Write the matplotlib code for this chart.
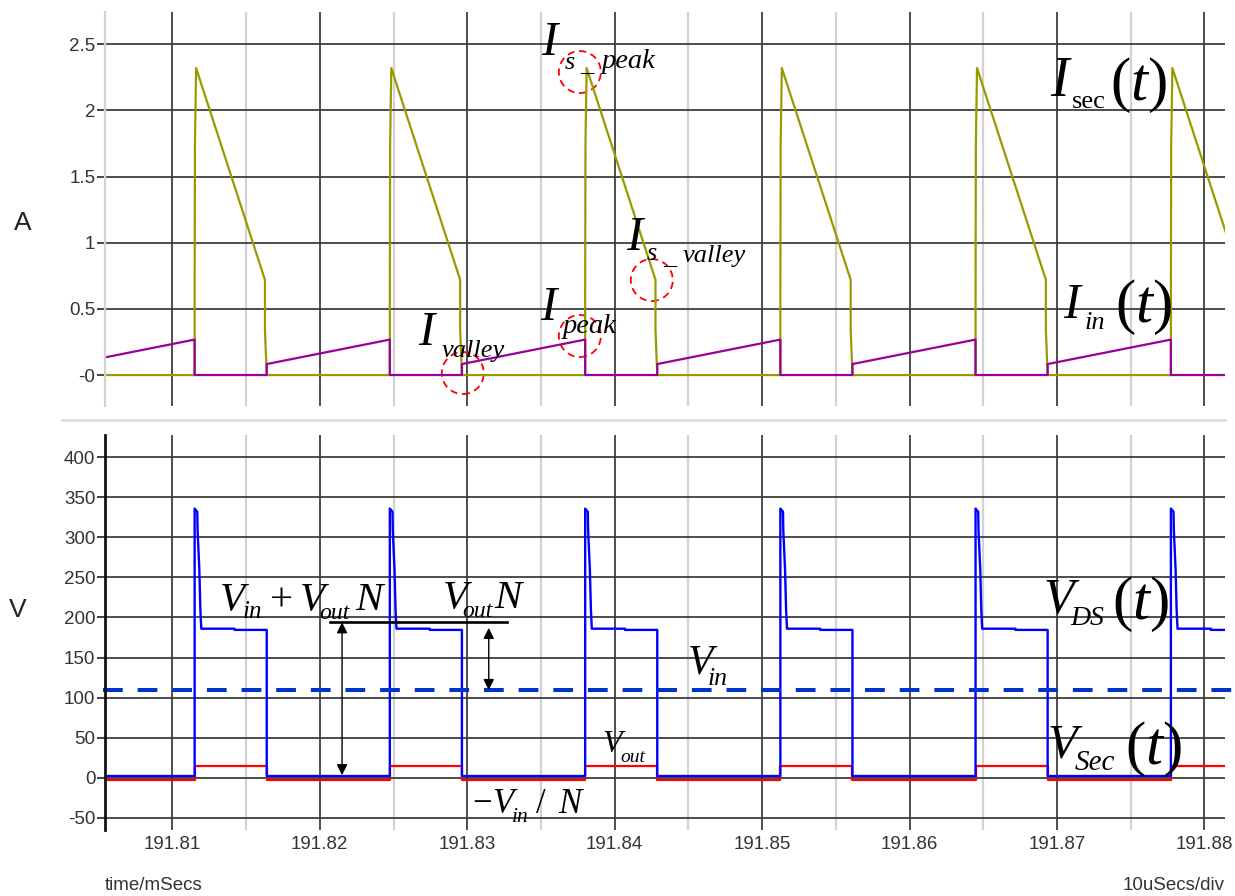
import matplotlib.pyplot as plt
import matplotlib.transforms as mtransforms
from matplotlib.patches import Circle
from matplotlib.lines import Line2D

plt.rcParams['font.family'] = ['Liberation Sans', 'DejaVu Sans']

# switching instants (ms)
t_off = [191.79827, 191.81151, 191.82475, 191.83800, 191.85124, 191.86448, 191.87773]  # VDS rises
t_on = [191.80316, 191.81640, 191.82964, 191.84289, 191.85613, 191.86937, 191.88262]   # VDS falls

# secondary current levels (A)
isec_rise_dt = [0, 0, 0.00002, 0.0001]
isec_rise_v = [0, 0.6, 1.74, 2.32]
is_valley = 0.72
is_tail = 0.34
# input current levels (A)
iin_valley = 0.083
iin_peak = 0.268

# drain-source voltage (V)
vds_low = 2
vds_ring_dt = [0, 0, 0.00018, 0.0002, 0.00032, 0.00039, 0.00045]
vds_ring_v = [2, 336, 332, 309, 259, 209, 186]
vds_step_dt = 0.0027
vds_plateau = [186, 184.5]
# secondary voltage (V)
vsec_high = 15
vsec_low = -3
v_in = 110

# piecewise waveforms
t_is, isec = [], []
for a, b in zip(t_off, t_on):
    t_is += [a + d for d in isec_rise_dt] + [b - 0.00012, b - 0.00012, b]
    isec += isec_rise_v + [is_valley, is_tail, 0]

t_ii, iin = [t_off[0]], [0]
for b, a_next in zip(t_on, t_off[1:]):
    t_ii += [b, b, a_next, a_next]
    iin += [0, iin_valley, iin_peak, 0]
t_ii.append(t_on[-1])
iin.append(0)

t_vd, vds = [], []
for a, b in zip(t_off, t_on):
    t_vd += [a + d for d in vds_ring_dt] + [a + vds_step_dt, a + vds_step_dt, b, b]
    vds += vds_ring_v + [vds_plateau[0], vds_plateau[1], vds_plateau[1], vds_low]

t_vs, vsec = [], []
for a, b in zip(t_off, t_on):
    t_vs += [a, a, b, b]
    vsec += [vsec_low, vsec_high, vsec_high, vsec_low]

W, H = 1235, 896
fig = plt.figure(figsize=(W / 100, H / 100), dpi=100)
ax1 = fig.add_axes([105 / W, 1 - 406 / H, 1120 / W, 394 / H])
ax2 = fig.add_axes([105 / W, 1 - 830 / H, 1120 / W, 395 / H])

xmin, xmax = 191.80543, 191.88140
major_x = [191.81, 191.82, 191.83, 191.84, 191.85, 191.86, 191.87, 191.88]
minor_x = [191.815, 191.825, 191.835, 191.845, 191.855, 191.865, 191.875]

for ax in (ax1, ax2):
    ax.set_xlim(xmin, xmax)
    ax.set_xticks(major_x)
    ax.set_xticks(minor_x, minor=True)
    ax.grid(True, which='major', color='#3a3a3a', lw=1.4, alpha=0.9)
    ax.grid(True, which='minor', axis='x', color='#d2d2d2', lw=1.6)
    for s in ('top', 'right', 'bottom'):
        ax.spines[s].set_visible(False)
    ax.tick_params(axis='x', which='both', length=0)
    ax.tick_params(axis='y', length=6, width=1.3, color='#333333',
                   labelsize=13.5, labelcolor='#333333', pad=1)
    ax.set_axisbelow(True)

# top panel: currents
ax1.set_ylim(-0.234, 2.744)
yt1 = [0, 0.5, 1, 1.5, 2, 2.5]
ax1.set_yticks(yt1, ['-0', '0.5', '1', '1.5', '2', '2.5'])
ax1.tick_params(axis='x', labelbottom=False)
ax1.spines['left'].set_color('#d2d2d2')
ax1.spines['left'].set_linewidth(1.6)
ax1.plot(t_is, isec, color='#999900', lw=1.6)
ax1.plot(t_ii, iin, color='#990099', lw=1.6)

# bottom panel: voltages
ax2.set_ylim(-65.4, 427.9)
yt2 = [-50, 0, 50, 100, 150, 200, 250, 300, 350, 400]
ax2.set_yticks(yt2, [str(v) for v in yt2])
ax2.set_xticklabels(['%.2f' % v for v in major_x])
ax2.tick_params(axis='x', labelsize=13.5, labelcolor='#333333', pad=4)
ax2.spines['left'].set_color('#111111')
ax2.spines['left'].set_linewidth(2)
ax2.plot(t_vs, vsec, color='#ff0000', lw=1.6)
ax2.plot(t_vd, vds, color='#0000ff', lw=1.7)
ax2.axhline(v_in, xmin=-0.002, xmax=1.009, color='#0033cc', lw=2.9,
            dashes=(4.9, 3.7), clip_on=False)


# equation-style labels: each piece = (text, size, dx px, dy px down, style)
def label(ax, x, y, parts):
    for s, size, dx, dy, style in parts:
        tr = mtransforms.offset_copy(ax.transData, fig=fig, x=dx, y=-dy, units='dots')
        ax.text(x, y, s, transform=tr, fontsize=size, style=style,
                family='Liberation Serif', color='black', ha='left', va='baseline')


it, up = 'italic', 'normal'

label(ax1, 191.82665, 0.227, [('I', 35, 0, 0, it), ('valley', 19, 24, 12, it)])
label(ax1, 191.83492, 0.416, [('I', 35, 0, 0, it), ('peak', 20.5, 23, 13, it)])
label(ax1, 191.84076, 0.945, [('I', 35, 0, 0, it), ('s', 19, 21, 10, it),
                              ('_', 19, 37, 14, it), ('valley', 19, 57, 12, it)])
label(ax1, 191.83499, 2.419, [('I', 35, 0, 0, it), ('s', 19, 24, 14, it),
                              ('_', 19, 39, 16, it), ('peak', 20.5, 61, 13, it)])
label(ax1, 191.86953, 2.109, [('I', 40, 0, 0, it), ('sec', 19, 22, 12, up),
                              ('(', 44, 60, 4, up), ('t', 44, 80, 4, it), (')', 44, 97, 4, up)])
label(ax1, 191.87041, 0.431, [('I', 36, 0, 0, it), ('in', 19, 22, 11, it),
                              ('(', 44, 52, 4, up), ('t', 44, 72, 4, it), (')', 44, 89, 4, up)])

circle_t = [191.83764, 191.82970, 191.83764, 191.84252]
circle_i = [2.290, 0.015, 0.295, 0.718]
for x, y in zip(circle_t, circle_i):
    tr = fig.dpi_scale_trans + mtransforms.ScaledTranslation(x, y, ax1.transData)
    ax1.add_patch(Circle((0, 0), 0.21, transform=tr, fill=False, ec='red',
                         lw=1.3, ls=(0, (4, 2.6))))

label(ax2, 191.81321, 209.3, [('V', 29.5, 0, 0, it), ('in', 18, 23, 8, it), ('+', 29.5, 50, 0, up),
                              ('V', 29.5, 80, 0, it), ('out', 17, 100, 9, it),
                              ('N', 29.5, 136, 0, it)])
label(ax2, 191.82834, 211.8, [('V', 29.5, 0, 0, it), ('out', 17, 20, 9, it), ('N', 29.5, 52, 0, it)])
label(ax2, 191.84497, 130.6, [('V', 30, 0, 0, it), ('in', 18.5, 20, 12, it)])
label(ax2, 191.83914, 32.0, [('V', 23, 0, 0, it), ('out', 14, 18, 10, it)])
label(ax2, 191.83031, -44.5, [('\u2212', 25, 0, 0, up), ('V', 25, 20, 0, it), ('in', 15.5, 40, 9, it),
                              ('/', 25, 64, 0, up), ('N', 25, 86, 0, it)])
label(ax2, 191.86905, 205.6, [('V', 36, 0, 0, it), ('DS', 20, 27, 12, it),
                              ('(', 44, 69, 6, up), ('t', 44, 89, 6, it), (')', 44, 106, 6, up)])
label(ax2, 191.86939, 25.7, [('V', 35, 0, 0, it), ('Sec', 21, 27, 13, it),
                             ('(', 44, 77, 7, up), ('t', 44, 97, 7, it), (')', 44, 114, 7, up)])

ax2.plot([191.82069, 191.83270], [194, 194], color='black', lw=1.9)
arrow = dict(arrowstyle='<|-|>', color='black', lw=1.0, mutation_scale=16,
             shrinkA=0, shrinkB=0)
ax2.annotate('', xy=(191.82151, 194), xytext=(191.82151, 3), arrowprops=arrow)
ax2.annotate('', xy=(191.83146, 187), xytext=(191.83146, 109.4), arrowprops=arrow)

# frame texts
fig.text(23 / W, 1 - 223 / H, 'A', fontsize=19, ha='center', va='center', color='#222222')
fig.text(18 / W, 1 - 610 / H, 'V', fontsize=19, ha='center', va='center', color='#222222')
fig.text(105 / W, 1 - 885 / H, 'time/mSecs', fontsize=13.5, ha='left', va='center',
         color='#333333')
fig.text(1225 / W, 1 - 885 / H, '10uSecs/div', fontsize=13.5, ha='right', va='center',
         color='#333333')
fig.add_artist(Line2D([62 / W, 1225 / W], [1 - 420 / H, 1 - 420 / H],
                      color='#dddddd', lw=2))

fig.savefig('out.png', dpi=100)
